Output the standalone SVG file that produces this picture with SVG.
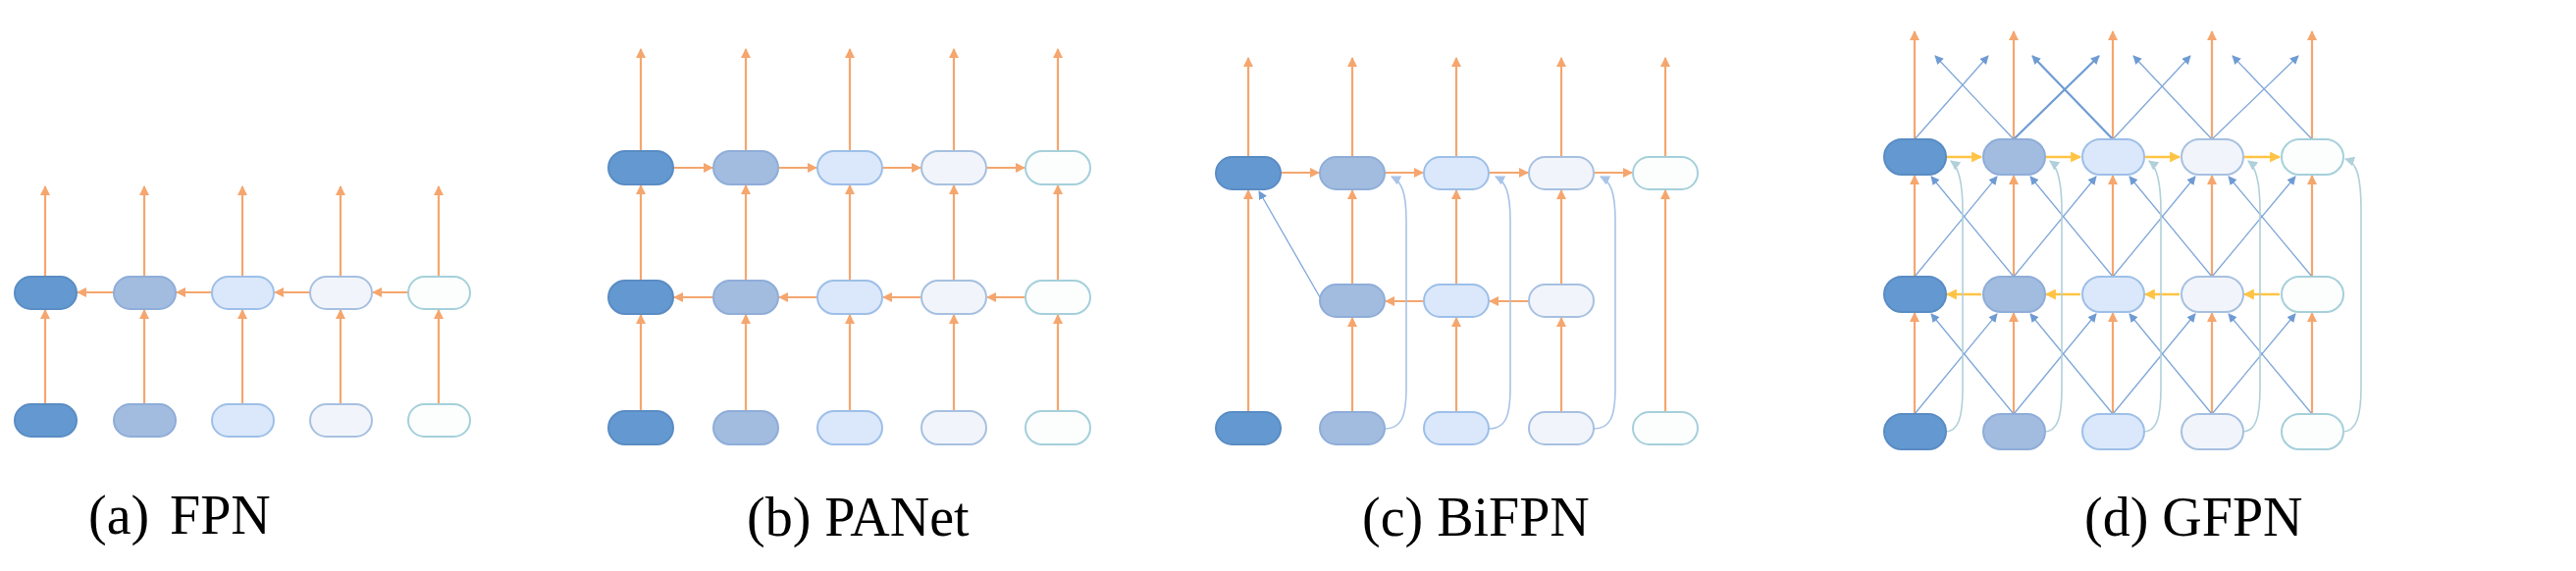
<svg xmlns="http://www.w3.org/2000/svg" width="2625" height="582" viewBox="0 0 2625 582">
<defs>
<style>
.n0{fill:#6399d0;stroke:#5a8cc4;stroke-width:2}
.n1{fill:#a2bce0;stroke:#8fadd8;stroke-width:2}
.n2{fill:#dbe8fb;stroke:#9dbfe8;stroke-width:2}
.n3{fill:#f1f5fb;stroke:#a7c0e0;stroke-width:2}
.n4{fill:#fcfefe;stroke:#a5d0da;stroke-width:2}
.o{stroke:#f5a66e;stroke-width:2.2;fill:none;marker-end:url(#mo)}
.y{stroke:#ffc445;stroke-width:2.6;fill:none;marker-end:url(#my)}
.b{stroke:#7fa7d8;stroke-width:1.3;fill:none;marker-end:url(#mb)}
.bb{stroke:#6f9bd3;stroke-width:2.2;fill:none;marker-end:url(#mb)}
.t{stroke:#b0d0da;stroke-width:1.6;fill:none;marker-end:url(#mt)}
.tb{stroke:#a9c4e8;stroke-width:1.6;fill:none;marker-end:url(#mt2)}
.lab{font-family:"Liberation Serif",serif;font-size:56px;fill:#000}
</style>
<marker id="mo" viewBox="0 0 10 10" refX="9" refY="5" markerWidth="10" markerHeight="10" markerUnits="userSpaceOnUse" orient="auto"><path d="M0,0L10,5L0,10z" fill="#f5a66e"/></marker>
<marker id="my" viewBox="0 0 10 10" refX="9" refY="5" markerWidth="11" markerHeight="11" markerUnits="userSpaceOnUse" orient="auto"><path d="M0,0L10,5L0,10z" fill="#ffc445"/></marker>
<marker id="mb" viewBox="0 0 10 10" refX="9" refY="5" markerWidth="9" markerHeight="9" markerUnits="userSpaceOnUse" orient="auto"><path d="M0,0L10,5L0,10z" fill="#6f9bd3"/></marker>
<marker id="mt" viewBox="0 0 10 10" refX="9" refY="5" markerWidth="10" markerHeight="10" markerUnits="userSpaceOnUse" orient="auto"><path d="M0,0L10,5L0,10z" fill="#b0d0da"/></marker>
<marker id="mt2" viewBox="0 0 10 10" refX="9" refY="5" markerWidth="10" markerHeight="10" markerUnits="userSpaceOnUse" orient="auto"><path d="M0,0L10,5L0,10z" fill="#a9c4e8"/></marker>
</defs>
<rect width="2625" height="582" fill="#fff"/>

<g id="connectors">
<!-- FPN -->
<path class="o" d="M46 412V316"/><path class="o" d="M147 412V316"/><path class="o" d="M247 412V316"/><path class="o" d="M347 412V316"/><path class="o" d="M447 412V316"/>
<path class="o" d="M46 282V190"/><path class="o" d="M147 282V190"/><path class="o" d="M247 282V190"/><path class="o" d="M347 282V190"/><path class="o" d="M447 282V190"/>
<path class="o" d="M116 298H79"/><path class="o" d="M216 298H180"/><path class="o" d="M316 298H280"/><path class="o" d="M416 298H380"/>
<!-- PANet -->
<path class="o" d="M653 419V321"/><path class="o" d="M760 419V321"/><path class="o" d="M866 419V321"/><path class="o" d="M972 419V321"/><path class="o" d="M1078 419V321"/>
<path class="o" d="M653 286V189"/><path class="o" d="M760 286V189"/><path class="o" d="M866 286V189"/><path class="o" d="M972 286V189"/><path class="o" d="M1078 286V189"/>
<path class="o" d="M653 154V50"/><path class="o" d="M760 154V50"/><path class="o" d="M866 154V50"/><path class="o" d="M972 154V50"/><path class="o" d="M1078 154V50"/>
<path class="o" d="M686 171H726"/><path class="o" d="M793 171H832"/><path class="o" d="M899 171H938"/><path class="o" d="M1005 171H1044"/>
<path class="o" d="M1044 303H1006"/><path class="o" d="M938 303H900"/><path class="o" d="M832 303H794"/><path class="o" d="M726 303H687"/>
<!-- BiFPN -->
<path class="o" d="M1272 420V194"/><path class="o" d="M1697 420V194"/>
<path class="o" d="M1378 420V324"/><path class="o" d="M1484 420V324"/><path class="o" d="M1591 420V324"/>
<path class="o" d="M1378 290V194"/><path class="o" d="M1484 290V194"/><path class="o" d="M1591 290V194"/>
<path class="o" d="M1272 160V59"/><path class="o" d="M1378 160V59"/><path class="o" d="M1484 160V59"/><path class="o" d="M1591 160V59"/><path class="o" d="M1697 160V59"/>
<path class="o" d="M1305 176H1344"/><path class="o" d="M1411 176H1450"/><path class="o" d="M1517 176H1557"/><path class="o" d="M1624 176H1663"/>
<path class="o" d="M1557 307H1518"/><path class="o" d="M1450 307H1412"/>
<path class="b" d="M1345 303L1283 195"/>
<path class="tb" d="M1411 437C1428 437 1433 425 1433 395V225C1433 195 1428 185 1418 180"/>
<path class="tb" d="M1517 437C1534 437 1539 425 1539 395V225C1539 195 1534 185 1524 180"/>
<path class="tb" d="M1624 437C1641 437 1646 425 1646 395V225C1646 195 1641 185 1631 180"/>
<!-- GFPN -->
<path class="o" d="M1951 422V319"/><path class="o" d="M2052 422V319"/><path class="o" d="M2153 422V319"/><path class="o" d="M2254 422V319"/><path class="o" d="M2356 422V319"/>
<path class="o" d="M1951 282V179"/><path class="o" d="M2052 282V179"/><path class="o" d="M2153 282V179"/><path class="o" d="M2254 282V179"/><path class="o" d="M2356 282V179"/>
<path class="o" d="M1951 142V32"/><path class="o" d="M2052 142V32"/><path class="o" d="M2153 142V32"/><path class="o" d="M2254 142V32"/><path class="o" d="M2356 142V32"/>
<path class="y" d="M1983 160H2019"/><path class="y" d="M2084 160H2120"/><path class="y" d="M2185 160H2221"/><path class="y" d="M2286 160H2323"/>
<path class="y" d="M2323 300H2287"/><path class="y" d="M2221 300H2186"/><path class="y" d="M2120 300H2085"/><path class="y" d="M2019 300H1984"/>
<path class="b" d="M1951 422L2035 320"/><path class="b" d="M2052 422L2136 320"/><path class="b" d="M2153 422L2237 320"/><path class="b" d="M2254 422L2339 320"/>
<path class="b" d="M2052 422L1968 320"/><path class="b" d="M2153 422L2069 320"/><path class="b" d="M2254 422L2170 320"/><path class="b" d="M2356 422L2271 320"/>
<path class="b" d="M1951 282L2035 180"/><path class="b" d="M2052 282L2136 180"/><path class="b" d="M2153 282L2237 180"/><path class="b" d="M2254 282L2339 180"/>
<path class="b" d="M2052 282L1968 180"/><path class="b" d="M2153 282L2069 180"/><path class="b" d="M2254 282L2170 180"/><path class="b" d="M2356 282L2271 180"/>
<path class="b" d="M1951 142L2026 57"/><path class="b" d="M2153 142L2232 57"/><path class="b" d="M2254 142L2342 57"/>
<path class="b" d="M2052 142L1972 57"/><path class="b" d="M2254 142L2174 57"/><path class="b" d="M2356 142L2275 57"/>
<path class="bb" d="M2052 142L2139 57"/><path class="bb" d="M2153 142L2071 57"/>
<path class="t" d="M1982 440C1996 440 2000 425 2000 395V215C2000 185 1996 170 1988 164"/>
<path class="t" d="M2083 440C2097 440 2101 425 2101 395V215C2101 185 2097 170 2089 164"/>
<path class="t" d="M2184 440C2198 440 2202 425 2202 395V215C2202 185 2198 170 2190 164"/>
<path class="t" d="M2285 440C2299 440 2303 425 2303 395V215C2303 185 2299 170 2291 164"/>
<path class="t" d="M2387 440C2401 440 2406 425 2406 395V215C2406 175 2400 165 2390 162"/>
</g>

<g id="fpn">
<g id="fpn-m0"><rect class="n0" x="15" y="282" width="63" height="33" rx="16.5"/></g>
<g id="fpn-m1"><rect class="n1" x="116" y="282" width="63" height="33" rx="16.5"/></g>
<g id="fpn-m2"><rect class="n2" x="216" y="282" width="63" height="33" rx="16.5"/></g>
<g id="fpn-m3"><rect class="n3" x="316" y="282" width="63" height="33" rx="16.5"/></g>
<g id="fpn-m4"><rect class="n4" x="416" y="282" width="63" height="33" rx="16.5"/></g>
<g id="fpn-b0"><rect class="n0" x="15" y="412" width="63" height="33" rx="16.5"/></g>
<g id="fpn-b1"><rect class="n1" x="116" y="412" width="63" height="33" rx="16.5"/></g>
<g id="fpn-b2"><rect class="n2" x="216" y="412" width="63" height="33" rx="16.5"/></g>
<g id="fpn-b3"><rect class="n3" x="316" y="412" width="63" height="33" rx="16.5"/></g>
<g id="fpn-b4"><rect class="n4" x="416" y="412" width="63" height="33" rx="16.5"/></g>
</g>

<g id="panet">
<g id="pa-t0"><rect class="n0" x="620" y="154" width="66" height="34" rx="17"/></g>
<g id="pa-t1"><rect class="n1" x="727" y="154" width="66" height="34" rx="17"/></g>
<g id="pa-t2"><rect class="n2" x="833" y="154" width="66" height="34" rx="17"/></g>
<g id="pa-t3"><rect class="n3" x="939" y="154" width="66" height="34" rx="17"/></g>
<g id="pa-t4"><rect class="n4" x="1045" y="154" width="66" height="34" rx="17"/></g>
<g id="pa-m0"><rect class="n0" x="620" y="286" width="66" height="34" rx="17"/></g>
<g id="pa-m1"><rect class="n1" x="727" y="286" width="66" height="34" rx="17"/></g>
<g id="pa-m2"><rect class="n2" x="833" y="286" width="66" height="34" rx="17"/></g>
<g id="pa-m3"><rect class="n3" x="939" y="286" width="66" height="34" rx="17"/></g>
<g id="pa-m4"><rect class="n4" x="1045" y="286" width="66" height="34" rx="17"/></g>
<g id="pa-b0"><rect class="n0" x="620" y="419" width="66" height="34" rx="17"/></g>
<g id="pa-b1"><rect class="n1" x="727" y="419" width="66" height="34" rx="17"/></g>
<g id="pa-b2"><rect class="n2" x="833" y="419" width="66" height="34" rx="17"/></g>
<g id="pa-b3"><rect class="n3" x="939" y="419" width="66" height="34" rx="17"/></g>
<g id="pa-b4"><rect class="n4" x="1045" y="419" width="66" height="34" rx="17"/></g>
</g>

<g id="bifpn">
<g id="bi-t0"><rect class="n0" x="1239" y="160" width="66" height="33" rx="16.5"/></g>
<g id="bi-t1"><rect class="n1" x="1345" y="160" width="66" height="33" rx="16.5"/></g>
<g id="bi-t2"><rect class="n2" x="1451" y="160" width="66" height="33" rx="16.5"/></g>
<g id="bi-t3"><rect class="n3" x="1558" y="160" width="66" height="33" rx="16.5"/></g>
<g id="bi-t4"><rect class="n4" x="1664" y="160" width="66" height="33" rx="16.5"/></g>
<g id="bi-m1"><rect class="n1" x="1345" y="290" width="66" height="33" rx="16.5"/></g>
<g id="bi-m2"><rect class="n2" x="1451" y="290" width="66" height="33" rx="16.5"/></g>
<g id="bi-m3"><rect class="n3" x="1558" y="290" width="66" height="33" rx="16.5"/></g>
<g id="bi-b0"><rect class="n0" x="1239" y="420" width="66" height="33" rx="16.5"/></g>
<g id="bi-b1"><rect class="n1" x="1345" y="420" width="66" height="33" rx="16.5"/></g>
<g id="bi-b2"><rect class="n2" x="1451" y="420" width="66" height="33" rx="16.5"/></g>
<g id="bi-b3"><rect class="n3" x="1558" y="420" width="66" height="33" rx="16.5"/></g>
<g id="bi-b4"><rect class="n4" x="1664" y="420" width="66" height="33" rx="16.5"/></g>
</g>

<g id="gfpn">
<g id="gf-t0"><rect class="n0" x="1920" y="142" width="63" height="36" rx="18"/></g>
<g id="gf-t1"><rect class="n1" x="2021" y="142" width="63" height="36" rx="18"/></g>
<g id="gf-t2"><rect class="n2" x="2122" y="142" width="63" height="36" rx="18"/></g>
<g id="gf-t3"><rect class="n3" x="2223" y="142" width="63" height="36" rx="18"/></g>
<g id="gf-t4"><rect class="n4" x="2325" y="142" width="63" height="36" rx="18"/></g>
<g id="gf-m0"><rect class="n0" x="1920" y="282" width="63" height="36" rx="18"/></g>
<g id="gf-m1"><rect class="n1" x="2021" y="282" width="63" height="36" rx="18"/></g>
<g id="gf-m2"><rect class="n2" x="2122" y="282" width="63" height="36" rx="18"/></g>
<g id="gf-m3"><rect class="n3" x="2223" y="282" width="63" height="36" rx="18"/></g>
<g id="gf-m4"><rect class="n4" x="2325" y="282" width="63" height="36" rx="18"/></g>
<g id="gf-b0"><rect class="n0" x="1920" y="422" width="63" height="36" rx="18"/></g>
<g id="gf-b1"><rect class="n1" x="2021" y="422" width="63" height="36" rx="18"/></g>
<g id="gf-b2"><rect class="n2" x="2122" y="422" width="63" height="36" rx="18"/></g>
<g id="gf-b3"><rect class="n3" x="2223" y="422" width="63" height="36" rx="18"/></g>
<g id="gf-b4"><rect class="n4" x="2325" y="422" width="63" height="36" rx="18"/></g>
</g>

<g id="labels">
<text class="lab" x="90" y="544">(a)</text>
<text class="lab" x="173" y="544">FPN</text>
<text class="lab" x="761" y="546">(b) PANet</text>
<text class="lab" x="1388" y="546">(c) BiFPN</text>
<text class="lab" x="2124" y="546">(d) GFPN</text>
</g>
</svg>
